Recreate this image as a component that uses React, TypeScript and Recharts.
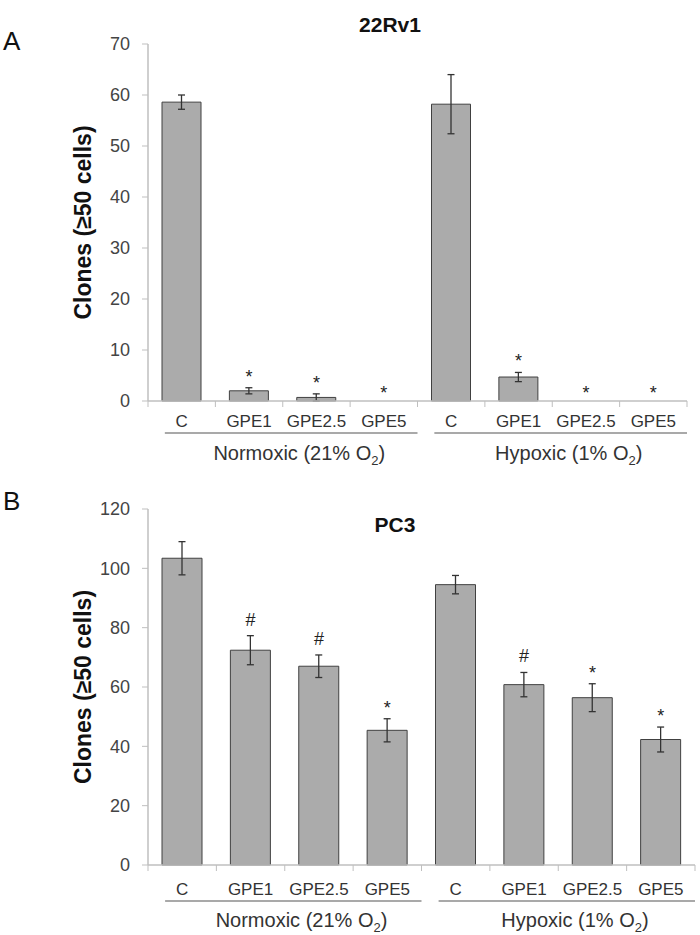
import React from 'react'
import { ComposedChart, Bar, ErrorBar, Scatter, XAxis, YAxis } from 'recharts'

const categories = ['C', 'GPE1', 'GPE2.5', 'GPE5', 'C', 'GPE1', 'GPE2.5', 'GPE5']
const groupNames = ['Normoxic', 'Hypoxic']
const groupO2 = ['21%', '1%']

// 22Rv1 panel
const rv1Means = [58.6, 2.0, 0.7, 0, 58.2, 4.7, 0, 0]
const rv1Errors = [1.4, 0.6, 0.7, null, 5.8, 0.9, null, null]
const rv1Marks = ['', '*', '*', '*', '', '*', '*', '*']
const rv1Ticks = [0, 10, 20, 30, 40, 50, 60, 70]

// PC3 panel
const pc3Means = [103.4, 72.4, 67.0, 45.4, 94.5, 60.8, 56.4, 42.3]
const pc3Errors = [5.6, 4.9, 3.8, 3.9, 3.1, 4.1, 4.7, 4.2]
const pc3Marks = ['', '#', '#', '*', '', '#', '*', '*']
const pc3Ticks = [0, 20, 40, 60, 80, 100, 120]

const FONT = '"Liberation Sans", Arial, sans-serif'
const AXIS = '#bfbfbf'

const buildData = (means: number[], errors: (number | null)[], marks: string[]) =>
  categories.map((label, i) => ({
    key: String(i),
    label,
    mean: means[i],
    err: errors[i],
    mark: marks[i],
    markY: means[i] + (errors[i] ?? 0),
  }))

const rv1Data = buildData(rv1Means, rv1Errors, rv1Marks)
const pc3Data = buildData(pc3Means, pc3Errors, pc3Marks)

interface TickCfg {
  labelDy: number
  lineDy: number
  groupDy: number
}

const CategoryTick = (props: any) => {
  const { x, y, index, width, cfg } = props
  const n = categories.length
  const band = width / n
  const perGroup = n / groupNames.length
  const items: React.ReactNode[] = []

  items.push(<line key="t0" x1={x - band / 2} x2={x - band / 2} y1={y} y2={y + 6} stroke={AXIS} />)
  if (index === n - 1) {
    items.push(<line key="t1" x1={x + band / 2} x2={x + band / 2} y1={y} y2={y + 6} stroke={AXIS} />)
  }
  items.push(
    <text key="lbl" x={x} y={y + cfg.labelDy} textAnchor="middle" fontSize={17} fill="#333" fontFamily={FONT}>
      {categories[index]}
    </text>
  )

  if (index % perGroup === perGroup - 1) {
    const g = Math.floor(index / perGroup)
    const gEnd = x + band / 2
    const gStart = gEnd - perGroup * band
    const lineStart = gStart + band * 0.25
    const mid = (lineStart + gEnd) / 2 + band * 0.12
    items.push(
      <line key="ul" x1={lineStart} x2={gEnd} y1={y + cfg.lineDy} y2={y + cfg.lineDy} stroke="#555" strokeWidth={1.2} />
    )
    items.push(
      <text key="grp" x={mid} y={y + cfg.groupDy} textAnchor="middle" fontSize={20} fill="#333" fontFamily={FONT}>
        <tspan>{`${groupNames[g]} (${groupO2[g]} O`}</tspan>
        <tspan dy={5} fontSize={13}>2</tspan>
        <tspan dy={-5}>)</tspan>
      </text>
    )
  }
  return <g>{items}</g>
}

const MarkShape = (props: any) => {
  const { cx, cy, payload } = props
  if (!payload || !payload.mark) return <g />
  const hasErr = payload.err != null
  const isHash = payload.mark === '#'
  const dy = isHash ? 10 : hasErr ? 5 : 2
  return (
    <text x={cx} y={cy - dy} textAnchor="middle" fontSize={18} fill="#222" fontFamily={FONT}>
      {payload.mark}
    </text>
  )
}

const yLabel = (props: any) => {
  const vb = props.viewBox || {}
  const cx = vb.x - 5
  const cy = vb.y + vb.height / 2
  return (
    <text
      x={cx}
      y={cy}
      transform={`rotate(-90, ${cx}, ${cy})`}
      textAnchor="middle"
      dominantBaseline="central"
      fontSize={23}
      fontWeight="bold"
      fill="#111"
      fontFamily={FONT}
    >
      Clones (≥50 cells)
    </text>
  )
}

interface PanelProps {
  data: ReturnType<typeof buildData>
  max: number
  ticks: number[]
  height: number
  margin: { top: number; right: number; bottom: number; left: number }
  cfg: TickCfg
  letter: string
  letterY: number
  title: string
  titleX: number
  titleY: number
  barSize: number
}

const Panel: React.FC<PanelProps> = ({ data, max, ticks, height, margin, cfg, letter, letterY, title, titleX, titleY, barSize }) => (
  <ComposedChart width={700} height={height} data={data} margin={margin}>
    <text x={3} y={letterY} fontSize={26} fill="#111" fontFamily={FONT}>
      {letter}
    </text>
    <text x={titleX} y={titleY} textAnchor="middle" fontSize={21} fontWeight="bold" fill="#111" fontFamily={FONT}>
      {title}
    </text>
    <XAxis
      dataKey="key"
      height={65}
      interval={0}
      tickLine={false}
      tickSize={0}
      tickMargin={0}
      axisLine={{ stroke: AXIS, strokeWidth: 1.5 }}
      tick={(p: any) => <CategoryTick {...p} cfg={cfg} />}
    />
    <YAxis
      width={60}
      domain={[0, max]}
      ticks={ticks}
      interval={0}
      tickSize={6}
      tickMargin={12}
      axisLine={{ stroke: AXIS, strokeWidth: 1.5 }}
      tickLine={{ stroke: AXIS }}
      tick={{ fontSize: 18, fill: '#444', fontFamily: FONT }}
      label={{ content: yLabel }}
    />
    <Bar dataKey="mean" fill="#ababab" stroke="#404040" strokeWidth={1} barSize={barSize} isAnimationActive={false}>
      <ErrorBar dataKey="err" width={3.5} stroke="#333" strokeWidth={1.3} direction="y" />
    </Bar>
    <Scatter dataKey="markY" shape={MarkShape} isAnimationActive={false} />
  </ComposedChart>
)

export default function App() {
  return (
    <div style={{ position: 'absolute', left: 0, top: 0, width: 700, height: 935, background: '#fff', fontFamily: FONT }}>
      <Panel
        data={rv1Data}
        max={70}
        ticks={rv1Ticks}
        height={470}
        margin={{ top: 44, right: 13, bottom: 4, left: 88 }}
        cfg={{ labelDy: 26, lineDy: 32, groupDy: 59 }}
        letter="A"
        letterY={50}
        title="22Rv1"
        titleX={390}
        titleY={32}
        barSize={39}
      />
      <Panel
        data={pc3Data}
        max={120}
        ticks={pc3Ticks}
        height={465}
        margin={{ top: 39, right: 5, bottom: 5, left: 88 }}
        cfg={{ labelDy: 30, lineDy: 36, groupDy: 62 }}
        letter="B"
        letterY={40}
        title="PC3"
        titleX={395}
        titleY={62}
        barSize={40}
      />
    </div>
  )
}
